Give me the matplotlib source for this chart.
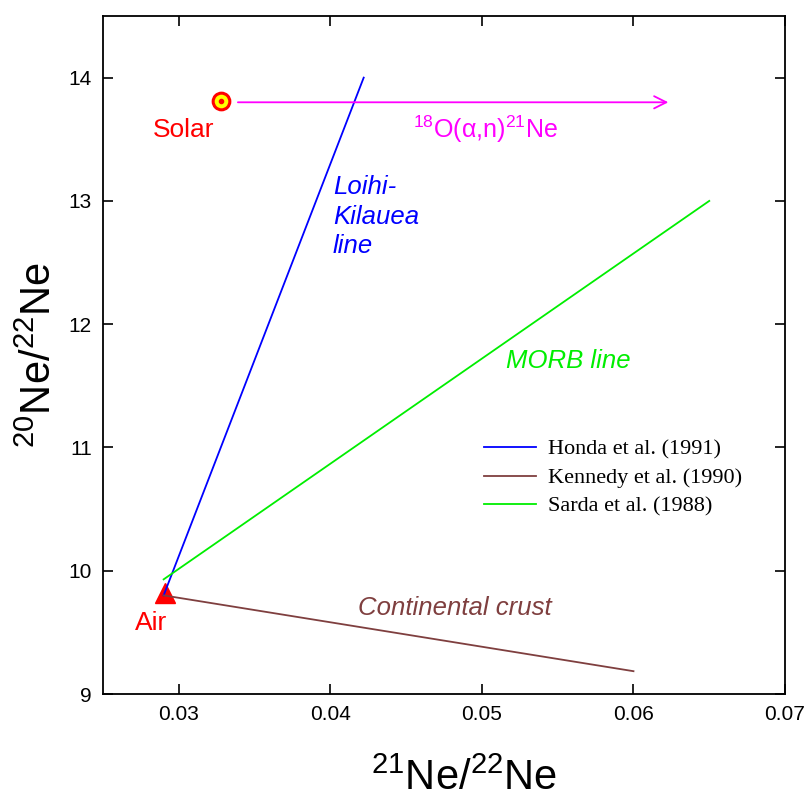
import numpy as np
import matplotlib
matplotlib.use('Agg')
import matplotlib.pyplot as plt

plt.rcParams['font.family'] = ['Liberation Sans', 'DejaVu Sans']
plt.rcParams['mathtext.fontset'] = 'custom'
plt.rcParams['mathtext.rm'] = 'Liberation Sans'
plt.rcParams['mathtext.it'] = 'Liberation Sans:italic'

# line end points
honda_x = [0.0290, 0.0422]
honda_y = [9.80, 14.00]
kennedy_x = [0.0290, 0.0600]
kennedy_y = [9.80, 9.185]
sarda_x = [0.0290, 0.0650]
sarda_y = [9.93, 13.00]

solar_x, solar_y = 0.0328, 13.81
air_x, air_y = 0.0291, 9.82
arrow_x = [0.0339, 0.0623]
arrow_y = 13.80

fig = plt.figure(figsize=(8.06, 8.0), dpi=100)
ax = fig.add_axes([0.1278, 0.1325, 0.8462, 0.8475])

ax.plot(honda_x, honda_y, color='#0000ff', lw=1.3, label='Honda et al. (1991)')
ax.plot(kennedy_x, kennedy_y, color='#7f3f3f', lw=1.3, label='Kennedy et al. (1990)')
ax.plot(sarda_x, sarda_y, color='#00ee00', lw=1.3, label='Sarda et al. (1988)')

ax.annotate('', xy=(arrow_x[1], arrow_y), xytext=(arrow_x[0], arrow_y),
            arrowprops=dict(arrowstyle='->', color='#ff00ff', lw=1.3,
                            mutation_scale=22, shrinkA=0, shrinkB=0))

ax.plot(solar_x, solar_y, 'o', ms=12, mfc='#ffff00', mec='#ff0000', mew=2.2)
ax.plot(solar_x, solar_y, 'o', ms=3, color='#ff0000')
ax.plot(air_x, air_y, '^', ms=14, color='#ff0000', zorder=1)

ax.text(0.02828, 13.576, 'Solar', color='#ff0000', fontsize=19, va='center')
ax.text(0.0271, 9.574, 'Air', color='#ff0000', fontsize=19, va='center')
ax.text(0.04017, 13.21, 'Loihi-\nKilauea\nline', color='#0000ff', fontsize=18.5,
        style='italic', va='top', linespacing=1.3)
ax.text(0.05158, 11.70, 'MORB line', color='#00ee00', fontsize=18.5,
        style='italic', va='center')
ax.text(0.04181, 9.70, 'Continental crust', color='#7f3f3f', fontsize=18.5,
        style='italic', va='center')
ax.text(0.04545, 13.58, r'$^{18}$O(α,n)$^{21}$Ne', color='#ff00ff', fontsize=18,
        va='center')

ax.set_xlim(0.025, 0.07)
ax.set_ylim(9, 14.5)
ax.set_xticks([0.03, 0.04, 0.05, 0.06, 0.07])
ax.set_xticklabels(['0.03', '0.04', '0.05', '0.06', '0.07'])
ax.set_yticks([9, 10, 11, 12, 13, 14])
ax.tick_params(direction='in', top=True, right=True, length=7, width=1.2,
               labelsize=15, pad=8)
for s in ax.spines.values():
    s.set_linewidth(1.3)

ax.set_xlabel(r'$^{21}$Ne/$^{22}$Ne', fontsize=30)
ax.set_ylabel(r'$^{20}$Ne/$^{22}$Ne', fontsize=30)
ax.xaxis.set_label_coords(0.53, -0.095)
ax.yaxis.set_label_coords(-0.063, 0.5)

leg = ax.legend(loc='upper left', bbox_to_anchor=(0.53, 0.405), frameon=False,
                prop={'family': 'Liberation Serif', 'size': 16},
                handlelength=2.3, handletextpad=0.55, labelspacing=0.35)

fig.savefig('out.png', dpi=100)
